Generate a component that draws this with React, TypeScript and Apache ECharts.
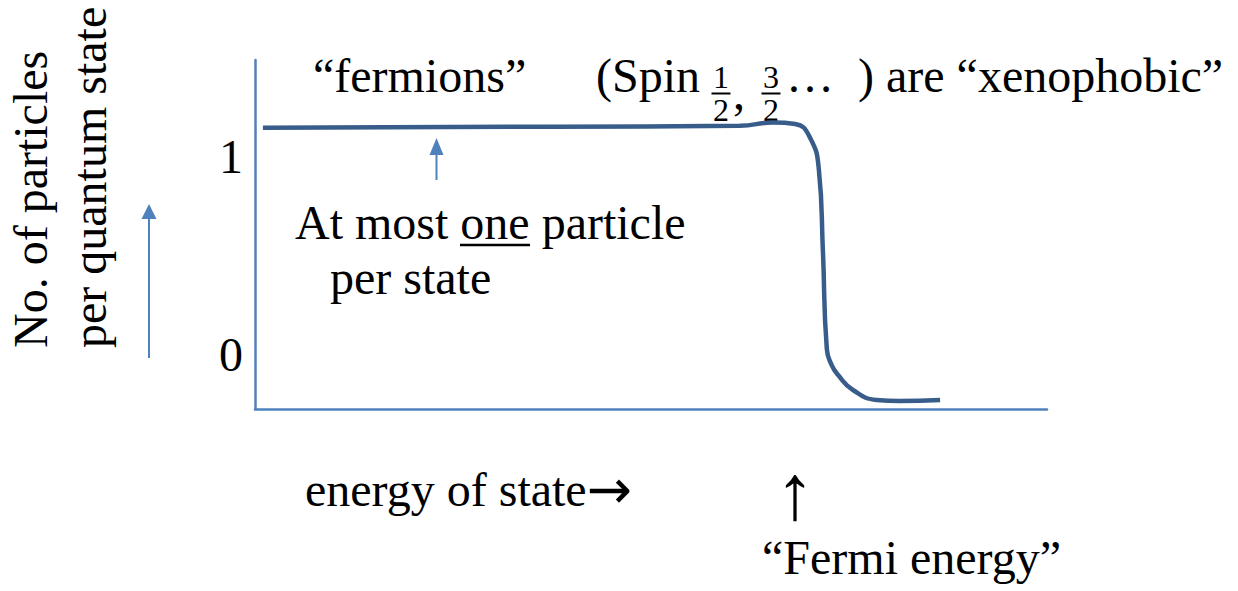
import React, { useEffect, useRef } from 'react';
import * as echarts from 'echarts';

// Occupancy curve (energy in arbitrary units 0..100)
const energy = [1.0, 37.2, 61.2, 65.4, 68.2, 70.1, 71.2, 71.7, 72.2, 72.8, 73.6, 75.5, 78.5, 81.4, 86.5];
const occupancy = [1.148, 1.153, 1.158, 1.174, 1.167, 1.096, 0.934, 0.53, 0.03, -0.05, -0.1, -0.177, -0.227, -0.232, -0.227];
const yTickValues = [0, 1];

const yTitleLines = ['No. of particles', 'per quantum state'];
const fermionsText = '“fermions”';
const spinPrefix = '(Spin';
const spinFractions = [['1', '2'], ['3', '2']];
const spinSuffix = '…  ) are “xenophobic”';
const noteLine1 = ['At most ', 'one', ' particle'];
const noteLine2 = 'per state';
const xTitle = 'energy of state';
const rightArrow = '→';
const fermiArrow = '↑';
const fermiText = '“Fermi energy”';

const SERIF = '"Liberation Serif", "Times New Roman", serif';
const AXIS_COLOR = '#4F81BD';
const CURVE_COLOR = '#385D8A';

function txt(text: string, x: number, y: number, opts: any = {}) {
  const align = opts.align || 'left';
  const valign = opts.valign || 'middle';
  const style: any = {
    text,
    fill: '#000',
    fontSize: opts.size || 48,
    fontFamily: opts.family || SERIF,
    align,
    verticalAlign: valign,
    textAlign: align,
    textVerticalAlign: valign,
  };
  if (opts.lineHeight) style.lineHeight = opts.lineHeight;
  if (opts.rich) style.rich = opts.rich;
  return { type: 'text', x, y, rotation: opts.rotation || 0, silent: true, style };
}

export default function App() {
  const ref = useRef<HTMLDivElement>(null);
  useEffect(() => {
    if (!ref.current) return;
    const chart = echarts.init(ref.current, undefined, { renderer: 'svg' });
    const data = energy.map((e, i) => [e, occupancy[i]]);

    const graphics: any[] = [];
    // rotated y title
    graphics.push(txt(yTitleLines[0], 30, 348, { rotation: Math.PI / 2 }));
    graphics.push(txt(yTitleLines[1], 89, 348, { rotation: Math.PI / 2 }));
    // left blue arrow
    graphics.push({ type: 'line', silent: true, shape: { x1: 149, y1: 358, x2: 149, y2: 216 }, style: { stroke: AXIS_COLOR, lineWidth: 2 } });
    graphics.push({ type: 'polygon', silent: true, shape: { points: [[149, 204], [141.5, 219], [156.5, 219]] }, style: { fill: AXIS_COLOR } });
    // top row
    graphics.push(txt(fermionsText, 313, 75));
    graphics.push(txt(spinPrefix, 596, 75));
    const fracX = [721, 771];
    spinFractions.forEach((f, i) => {
      graphics.push(txt(f[0], fracX[i], 77, { align: 'center', size: 32, lineHeight: 32 }));
      graphics.push({ type: 'line', silent: true, shape: { x1: fracX[i] - 9.5, y1: 93.5, x2: fracX[i] + 9.5, y2: 93.5 }, style: { stroke: '#000', lineWidth: 2 } });
      graphics.push(txt(f[1], fracX[i], 109.5, { align: 'center', size: 32, lineHeight: 32 }));
    });
    graphics.push(txt(',', 733, 92, { lineHeight: 24 }));
    graphics.push(txt(spinSuffix, 786, 75));
    // small arrow
    graphics.push({ type: 'line', silent: true, shape: { x1: 436.5, y1: 180, x2: 436.5, y2: 150 }, style: { stroke: AXIS_COLOR, lineWidth: 2 } });
    graphics.push({ type: 'polygon', silent: true, shape: { points: [[436.5, 138], [429.5, 155], [443.5, 155]] }, style: { fill: AXIS_COLOR } });
    // note
    graphics.push(txt(`${noteLine1[0]}{u|${noteLine1[1]}}${noteLine1[2]}`, 295, 222, {
      rich: { u: { fontSize: 48, fontFamily: SERIF, fill: '#000', color: '#000' } },
    }));
    graphics.push({ type: 'line', silent: true, shape: { x1: 460, y1: 245, x2: 530, y2: 245 }, style: { stroke: '#000', lineWidth: 2.5 } });
    graphics.push(txt(noteLine2, 330, 277));
    // bottom
    graphics.push(txt(`${xTitle}{a|${rightArrow}}`, 305, 489, {
      rich: { a: { fontSize: 54, fontFamily: '"DejaVu Sans", sans-serif', fill: '#000', color: '#000' } },
    }));
    graphics.push(txt(fermiArrow, 795, 492, { align: 'center', size: 78 }));
    graphics.push(txt(fermiText, 762, 557));

    chart.setOption({
      animation: false,
      grid: { left: 255, top: 60, width: 792, height: 349, containLabel: false },
      xAxis: {
        type: 'value', min: 0, max: 100,
        axisLine: { show: true, onZero: false, lineStyle: { color: AXIS_COLOR, width: 2.5 } },
        axisTick: { show: false }, axisLabel: { show: false }, splitLine: { show: false },
      },
      yAxis: {
        type: 'value', min: -0.273, max: 1.49,
        axisLine: { show: true, onZero: false, lineStyle: { color: AXIS_COLOR, width: 2.5 } },
        axisTick: { show: false }, splitLine: { show: false },
        axisLabel: {
          show: true, customValues: yTickValues, margin: 12,
          color: '#000', fontSize: 48, fontFamily: SERIF,
          formatter: (v: number) => String(v),
        },
      },
      series: [{
        type: 'line', data, showSymbol: false, smooth: 0.5,
        lineStyle: { color: CURVE_COLOR, width: 4.5 },
        silent: true,
      }],
      graphic: graphics,
    });
    return () => chart.dispose();
  }, []);
  return <div ref={ref} style={{ position: 'fixed', left: 0, top: 0, width: 1238, height: 591, background: '#fff' }} />;
}
